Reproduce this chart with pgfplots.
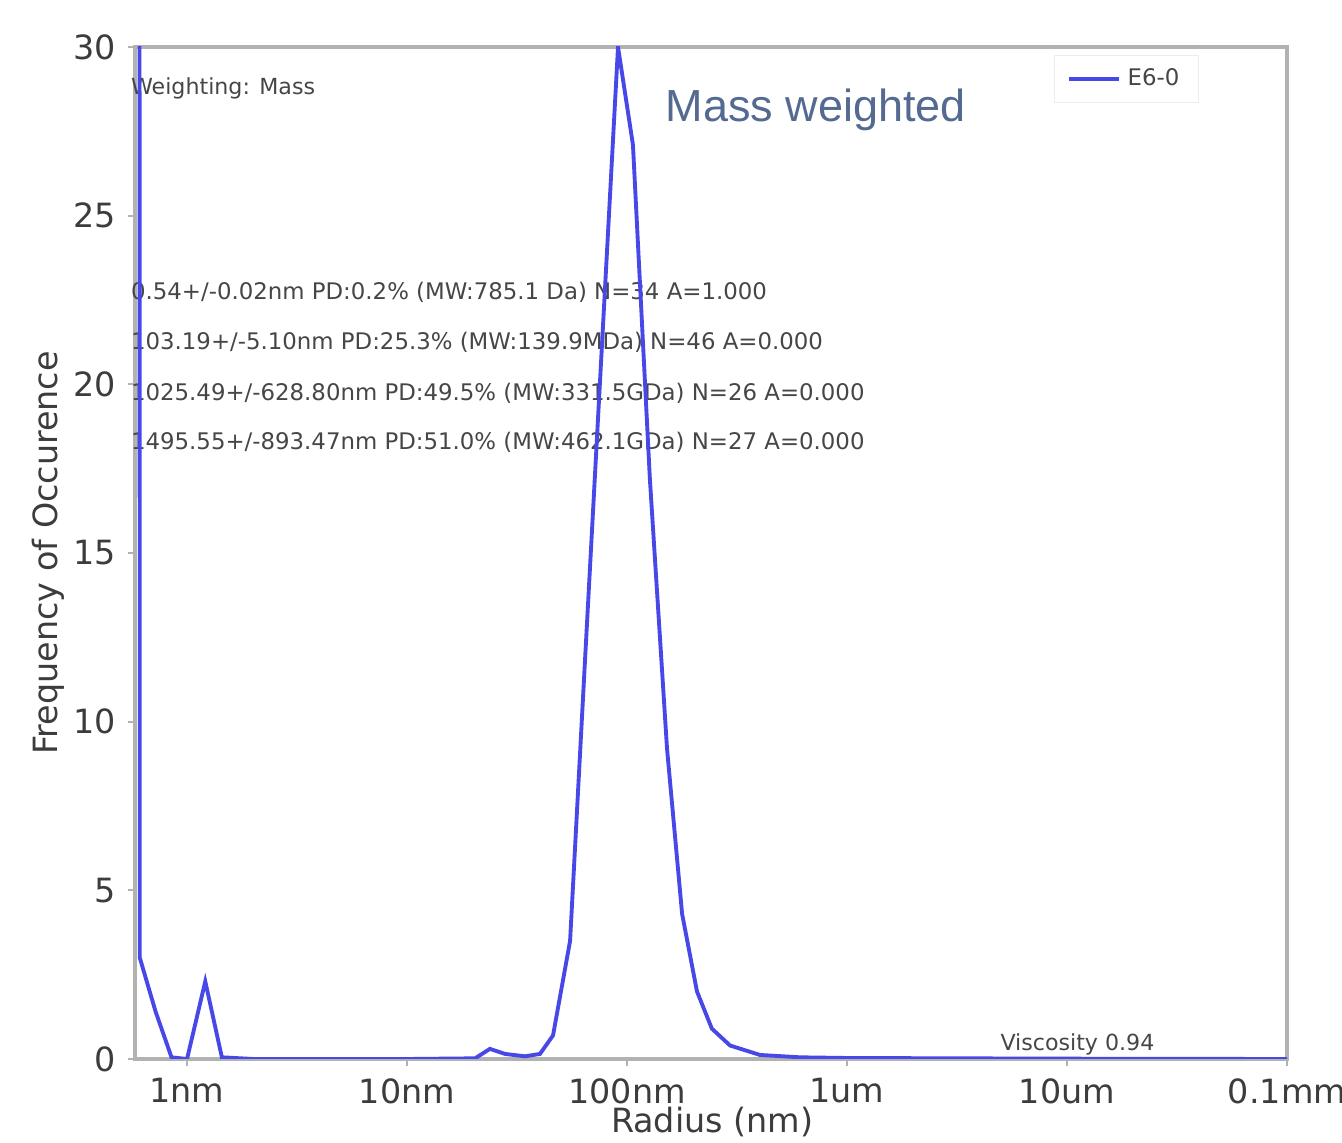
\documentclass[border=0pt]{standalone}
\usepackage{pgfplots}
\pgfplotsset{compat=1.18}
\usepackage{fontspec}
\setmainfont{DejaVu Sans}
\newfontfamily\arialfont{Liberation Sans}
\definecolor{blueline}{RGB}{72,72,232}
\definecolor{framegray}{RGB}{178,178,178}
\definecolor{labgray}{RGB}{60,60,60}
\definecolor{txtgray}{RGB}{70,70,70}
\definecolor{titleblue}{RGB}{84,106,144}
\begin{document}
\begin{tikzpicture}
\begin{axis}[
  scale only axis,
  width=115.2mm, height=101.2mm,
  xmode=log,
  xmin=0.58, xmax=100000,
  ymin=0, ymax=30,
  clip mode=individual,
  set layers=standard,
  axis line style={draw=framegray, line width=1.1pt},
  xtick={1,10,100,1000,10000,100000},
  xticklabels={1nm,10nm,100nm,1um,10um,0.1mm},
  minor tick length=0pt,
  minor tick style={draw=none},
  ytick={0,5,10,15,20,25,30},
  tick align=outside,
  major tick length=0.7mm,
  tick style={draw=framegray, line width=0.6pt},
  xtick pos=bottom, ytick pos=left,
  /pgf/number format/assume math mode=true,
  ticklabel style={font=\fontsize{9.5}{11}\selectfont, text=labgray},
  xlabel={Radius (nm)},
  ylabel={Frequency of Occurence},
  label style={font=\fontsize{9.5}{11}\selectfont, text=labgray},
  xlabel style={at={(axis description cs:0.501,-0.0623)}, anchor=center},
  ylabel style={at={(axis description cs:-0.0755,0.5)}, anchor=center},
  legend style={at={(axis description cs:0.924,0.992)}, anchor=north east,
    draw=gray!15, font=\fontsize{6.5}{8}\selectfont, text=txtgray,
    inner xsep=3.5pt, inner ysep=1.5pt},
  legend image code/.code={\draw[#1] (0cm,0cm) -- (5mm,0cm);},
  legend cell align=left,
]
\node[on layer=axis background, anchor=west, inner sep=0, font=\fontsize{6.3}{7}\selectfont, text=txtgray] at (axis description cs:-0.004,0.959) {Weighting: Mass};
\node[on layer=axis background, anchor=west, inner sep=0, font=\fontsize{6.5}{7}\selectfont, text=txtgray] at (axis description cs:-0.004,0.758) {0.54+/-0.02nm PD:0.2\% (MW:785.1 Da) N=34 A=1.000};
\node[on layer=axis background, anchor=west, inner sep=0, font=\fontsize{6.5}{7}\selectfont, text=txtgray] at (axis description cs:-0.004,0.708) {103.19+/-5.10nm PD:25.3\% (MW:139.9MDa) N=46 A=0.000};
\node[on layer=axis background, anchor=west, inner sep=0, font=\fontsize{6.5}{7}\selectfont, text=txtgray] at (axis description cs:-0.004,0.658) {1025.49+/-628.80nm PD:49.5\% (MW:331.5GDa) N=26 A=0.000};
\node[on layer=axis background, anchor=west, inner sep=0, font=\fontsize{6.5}{7}\selectfont, text=txtgray] at (axis description cs:-0.004,0.609) {1495.55+/-893.47nm PD:51.0\% (MW:462.1GDa) N=27 A=0.000};
\node[on layer=axis background, anchor=south west, inner sep=0, font=\fontsize{6.3}{7}\selectfont, text=txtgray] at (axis cs:4950,0.1) {Viscosity 0.94};
\node[anchor=center, inner sep=0, font=\arialfont\fontsize{12.8}{14}\selectfont, text=titleblue] at (axis description cs:0.591,0.938) {Mass weighted};
\addplot[blueline, line width=1.1pt] coordinates {
(0.598,200) (0.61,3.0) (0.72,1.4) (0.85,0.05) (1.0,0.0) (1.21,2.3) (1.44,0.05)
(2.0,0.0) (5.0,0.0) (10.0,0.0) (20.4,0.02) (23.8,0.3) (27.9,0.15) (34.4,0.08)
(40.2,0.15) (46.1,0.7) (55.1,3.5) (64.4,11.8) (75.4,20.1) (91.0,30.0)
(106.4,27.1) (127,17.2) (152,9.2) (178,4.3) (208,2.0) (243,0.9) (294,0.4)
(402,0.12) (611,0.05) (1000,0.03) (10000,0.01) (100000,0.0)
};
\addlegendentry{E6-0}
\end{axis}
\pgfresetboundingbox
\path ([xshift=-13.5mm,yshift=-8.4mm]current axis.south west) rectangle ([xshift=5.5mm,yshift=4.7mm]current axis.north east);
\end{tikzpicture}
\end{document}
